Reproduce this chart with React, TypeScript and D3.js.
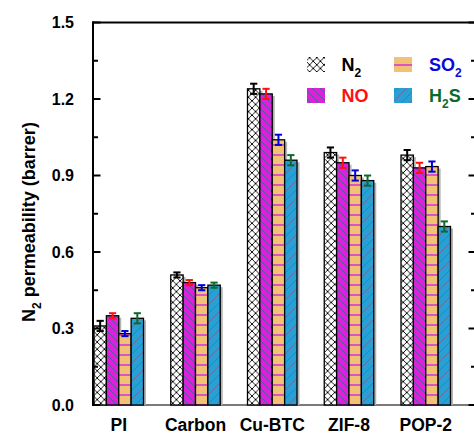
import React from "react";
import * as d3 from "d3";

const categories = ["PI", "Carbon", "Cu-BTC", "ZIF-8", "POP-2"];
const seriesKeys = ["N2", "NO", "SO2", "H2S"];
const n2Values = [0.31, 0.51, 1.24, 0.99, 0.98];
const n2Errors = [0.02, 0.01, 0.02, 0.02, 0.02];
const noValues = [0.35, 0.48, 1.22, 0.95, 0.93];
const noErrors = [0.01, 0.01, 0.02, 0.02, 0.02];
const so2Values = [0.28, 0.46, 1.04, 0.9, 0.935];
const so2Errors = [0.01, 0.01, 0.02, 0.02, 0.02];
const h2sValues = [0.34, 0.47, 0.96, 0.88, 0.7];
const h2sErrors = [0.02, 0.01, 0.02, 0.02, 0.02];
const yTickLabels = ["0.0", "0.3", "0.6", "0.9", "1.2", "1.5"];

const seriesValues = [n2Values, noValues, so2Values, h2sValues];
const seriesErrors = [n2Errors, noErrors, so2Errors, h2sErrors];
const seriesFill = ["url(#patN2)", "url(#patNO)", "url(#patSO2)", "url(#patH2S)"];
const errColors = ["#000000", "#ff1010", "#0000dd", "#0b6b2a"];

const FONT = "'Liberation Sans', Arial, Helvetica, sans-serif";

const W = 474;
const H = 434;
const left = 93;
const right = 476;
const top = 22.5;
const bottom = 405;

export default function App() {
  const y = d3.scaleLinear().domain([0, 1.5]).range([bottom, top]);
  const x0 = d3
    .scaleBand<string>()
    .domain(categories)
    .range([94, 94 + 5 * 76.75])
    .paddingInner(0.355)
    .paddingOuter(0.1775)
    .align(0);
  const x1 = d3
    .scaleBand<string>()
    .domain(seriesKeys)
    .range([0, x0.bandwidth()])
    .padding(0);
  const bw = x1.bandwidth();

  const ticks = d3.range(0, 11).map((i) => i * 0.15);

  const bars: React.ReactNode[] = [];
  const shadows: React.ReactNode[] = [];
  const errs: React.ReactNode[] = [];
  categories.forEach((c, ci) => {
    seriesKeys.forEach((s, si) => {
      const v = seriesValues[si][ci];
      const e = seriesErrors[si][ci];
      const bx = (x0(c) as number) + (x1(s) as number);
      const by = y(v);
      const h = bottom - by;
      shadows.push(
        <rect key={`sh${ci}${si}`} x={bx + 2.5} y={by + 2} width={bw} height={h - 2} fill="#b4b4b4" />
      );
      bars.push(
        <rect
          key={`b${ci}${si}`}
          x={bx}
          y={by}
          width={bw}
          height={h}
          fill={seriesFill[si]}
          stroke="#000"
          strokeWidth={1.3}
        />
      );
      const cx = bx + bw / 2;
      const y1 = y(v + e);
      const y2 = y(v - e);
      errs.push(
        <g key={`e${ci}${si}`} stroke={errColors[si]} strokeWidth={2}>
          <line x1={cx} x2={cx} y1={y1} y2={y2} />
          <line x1={cx - 3.6} x2={cx + 3.6} y1={y1} y2={y1} />
          <line x1={cx - 3.6} x2={cx + 3.6} y1={y2} y2={y2} />
        </g>
      );
    });
  });

  return (
    <svg
      width={W}
      height={H}
      style={{ position: "absolute", left: 0, top: 0, background: "#fff" }}
      fontFamily={FONT}
    >
      <defs>
        <pattern id="patN2" patternUnits="userSpaceOnUse" width={7.2} height={7.2}>
          <rect width={7.2} height={7.2} fill="#fff" />
          <path d="M-1,-1 L8.2,8.2 M8.2,-1 L-1,8.2" stroke="#000" strokeWidth={0.9} />
          <circle cx={0} cy={0} r={1} fill="#000" />
          <circle cx={7.2} cy={0} r={1} fill="#000" />
          <circle cx={0} cy={7.2} r={1} fill="#000" />
          <circle cx={7.2} cy={7.2} r={1} fill="#000" />
          <circle cx={3.6} cy={3.6} r={1} fill="#000" />
        </pattern>
        <pattern id="patNO" patternUnits="userSpaceOnUse" width={8} height={8}>
          <rect width={8} height={8} fill="#de1fde" />
          <path d="M-1,-1 L9,9 M-2,6 L2,10 M6,-2 L10,2" stroke="#5d559e" strokeWidth={1} />
        </pattern>
        <pattern id="patSO2" patternUnits="userSpaceOnUse" width={10} height={10}>
          <rect width={10} height={10} fill="#f1c276" />
          <line x1={0} x2={10} y1={5} y2={5} stroke="#d23ad6" strokeWidth={1.6} />
        </pattern>
        <pattern id="patH2S" patternUnits="userSpaceOnUse" width={9} height={9}>
          <rect width={9} height={9} fill="#28a0d6" />
          <path d="M-1,10 L10,-1 M-2,2 L2,-2 M7,11 L11,7" stroke="#5f6f9e" strokeWidth={1} />
        </pattern>
      </defs>

      {/* bottom axis line (grey) */}
      <line x1={left} x2={right} y1={bottom} y2={bottom} stroke="#7a7a7a" strokeWidth={2} />

      {shadows}
      {bars}
      {errs}

      {/* frame */}
      <line x1={left} x2={left} y1={top - 1} y2={bottom + 1} stroke="#000" strokeWidth={2} />
      <line x1={left - 1} x2={right} y1={top} y2={top} stroke="#000" strokeWidth={2} />
      <line x1={right} x2={right} y1={top} y2={bottom} stroke="#000" strokeWidth={2} />

      {/* ticks */}
      {ticks.map((t, i) => {
        const major = i % 2 === 0;
        const len = major ? 7.5 : 5;
        return (
          <g key={`t${i}`} stroke="#000" strokeWidth={2}>
            <line x1={left} x2={left + len} y1={y(t)} y2={y(t)} />
            <line x1={right} x2={right - len} y1={y(t)} y2={y(t)} />
          </g>
        );
      })}

      {/* y tick labels */}
      {yTickLabels.map((lab) => (
        <text
          key={lab}
          x={74}
          y={y(+lab)}
          dy="0.36em"
          textAnchor="end"
          fontSize={16}
          fontWeight="bold"
        >
          {lab}
        </text>
      ))}

      {/* x labels */}
      {categories.map((c) => (
        <text
          key={c}
          x={(x0(c) as number) + x0.bandwidth() / 2}
          y={431}
          textAnchor="middle"
          fontSize={17.5}
          fontWeight="bold"
        >
          {c}
        </text>
      ))}

      {/* y title */}
      <text
        transform="translate(35,222) rotate(-90)"
        textAnchor="middle"
        fontSize={18}
        fontWeight="bold"
      >
        N<tspan fontSize={12} dy={6}>2</tspan>
        <tspan dy={-6}> permeability (barrer)</tspan>
      </text>

      {/* legend */}
      <rect x={307} y={57} width={18} height={15} fill="url(#patN2)" />
      <text x={341.5} y={71} fontSize={18} fontWeight="bold" fill="#000">
        N<tspan fontSize={12} dy={6}>2</tspan>
      </text>
      <rect x={307} y={88} width={18} height={15} fill="url(#patNO)" />
      <text x={341.5} y={102} fontSize={18} fontWeight="bold" fill="#ff1010">
        NO
      </text>
      <rect x={394} y={57} width={18} height={15} fill="url(#patSO2)" />
      <text x={429} y={71} fontSize={18} fontWeight="bold" fill="#0a0ad8">
        SO<tspan fontSize={12} dy={6}>2</tspan>
      </text>
      <rect x={394} y={88} width={18} height={15} fill="url(#patH2S)" />
      <text x={429} y={102} fontSize={18} fontWeight="bold" fill="#0b6b2a">
        H<tspan fontSize={12} dy={6}>2</tspan>
        <tspan dy={-6}>S</tspan>
      </text>
    </svg>
  );
}
